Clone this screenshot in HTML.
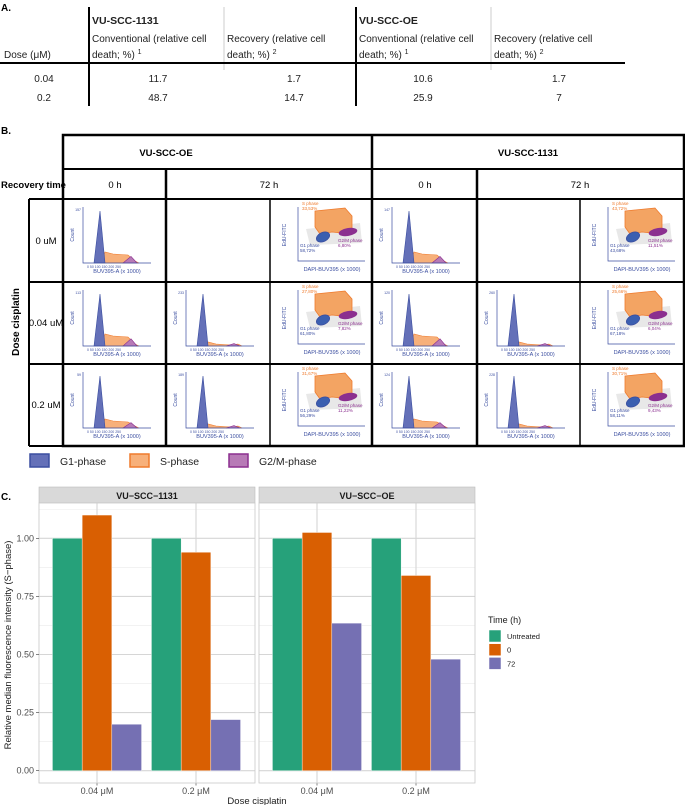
<!DOCTYPE html>
<html><head><meta charset="utf-8"><style>
html,body{margin:0;padding:0;background:#fff;}
svg{display:block;font-family:"Liberation Sans",Arial,sans-serif;}
</style></head><body>
<svg id="fig" width="685" height="805" viewBox="0 0 685 805" xmlns="http://www.w3.org/2000/svg">
<!-- Part A -->
<g>
<text x="1" y="11" font-size="10" font-weight="bold">A.</text>
<line x1="89" y1="7" x2="89" y2="106" stroke="#000" stroke-width="2"/>
<line x1="356" y1="7" x2="356" y2="106" stroke="#000" stroke-width="2"/>
<line x1="224" y1="7" x2="224" y2="70" stroke="#ccc" stroke-width="1"/>
<line x1="491" y1="7" x2="491" y2="70" stroke="#ccc" stroke-width="1"/>
<line x1="0" y1="63" x2="625" y2="63" stroke="#000" stroke-width="2"/>
<g font-size="10" fill="#222">
<text x="92" y="24" font-weight="bold" font-size="10.5">VU-SCC-1131</text>
<text x="359" y="24" font-weight="bold" font-size="10.5">VU-SCC-OE</text>
<text x="92" y="42">Conventional (relative cell</text>
<text x="92" y="58">death; %) <tspan font-size="7" dy="-4">1</tspan></text>
<text x="227" y="42">Recovery (relative cell</text>
<text x="227" y="58">death; %) <tspan font-size="7" dy="-4">2</tspan></text>
<text x="359" y="42">Conventional (relative cell</text>
<text x="359" y="58">death; %) <tspan font-size="7" dy="-4">1</tspan></text>
<text x="494" y="42">Recovery (relative cell</text>
<text x="494" y="58">death; %) <tspan font-size="7" dy="-4">2</tspan></text>
<text x="4" y="58">Dose (μM)</text>
<g text-anchor="middle">
<text x="44" y="82">0.04</text><text x="158" y="82">11.7</text><text x="294" y="82">1.7</text><text x="423" y="82">10.6</text><text x="559" y="82">1.7</text>
<text x="44" y="101">0.2</text><text x="158" y="101">48.7</text><text x="294" y="101">14.7</text><text x="423" y="101">25.9</text><text x="559" y="101">7</text>
</g></g>
</g>
<!-- Part B -->
<g id="partB">
<text x="1" y="134" font-size="10" font-weight="bold">B.</text>
<text x="1" y="188" font-size="9.5" font-weight="bold">Recovery time</text>
<text transform="translate(19,322) rotate(-90)" text-anchor="middle" font-size="10" font-weight="bold">Dose cisplatin</text>
<g font-size="9.5" text-anchor="middle">
<text x="166" y="156" font-weight="bold">VU-SCC-OE</text>
<text x="528" y="156" font-weight="bold">VU-SCC-1131</text>
<text x="115" y="188">0 h</text><text x="269" y="188">72 h</text>
<text x="425" y="188">0 h</text><text x="580" y="188">72 h</text>
<text x="46" y="244">0 uM</text><text x="46" y="326">0.04 uM</text><text x="46" y="408">0.2 uM</text>
</g>
<g id="cells"></g>
<g stroke="#000" fill="none">
<rect x="63" y="135" width="621" height="311" stroke-width="2.5"/>
<line x1="63" y1="169" x2="684" y2="169" stroke-width="2"/>
<line x1="63" y1="199" x2="684" y2="199" stroke-width="2"/>
<line x1="29" y1="199" x2="63" y2="199" stroke-width="2"/>
<line x1="29" y1="282" x2="684" y2="282" stroke-width="2"/>
<line x1="29" y1="364" x2="684" y2="364" stroke-width="2"/>
<line x1="29" y1="446" x2="63" y2="446" stroke-width="2"/>
<line x1="29" y1="199" x2="29" y2="446" stroke-width="2"/>
<line x1="372" y1="135" x2="372" y2="446" stroke-width="2.5"/>
<line x1="166" y1="169" x2="166" y2="446" stroke-width="2.5"/>
<line x1="477" y1="169" x2="477" y2="446" stroke-width="2.5"/>
<line x1="270" y1="199" x2="270" y2="446" stroke-width="1.5"/>
<line x1="580" y1="199" x2="580" y2="446" stroke-width="1.5"/>
</g>
<g font-size="10.5" fill="#222">
<rect x="30" y="454" width="19" height="13" fill="#6470b8" stroke="#3b4ea0" stroke-width="1.5"/>
<text x="60" y="465">G1-phase</text>
<rect x="130" y="454" width="19" height="13" fill="#f7b07a" stroke="#ef7a2c" stroke-width="1.5"/>
<text x="160" y="465">S-phase</text>
<rect x="229" y="454" width="19" height="13" fill="#b77ab6" stroke="#8b2f8f" stroke-width="1.5"/>
<text x="259" y="465">G2/M-phase</text>
</g>
</g>
<!-- Part C -->
<g id="partC">
<text x="1" y="500" font-size="10" font-weight="bold">C.</text>
</g>
</svg>
<script>
// ---------- Part C data ----------
const panels = ["VU−SCC−1131", "VU−SCC−OE"];
const doses = ["0.04 μM", "0.2 μM"];
const seriesNames = ["Untreated", "0", "72"];
const valsUntreated = [[1.00, 1.00], [1.00, 1.00]];
const valsT0 = [[1.10, 0.94], [1.025, 0.84]];
const valsT72 = [[0.20, 0.22], [0.635, 0.48]];
const yTicks = [0, 0.25, 0.5, 0.75, 1.0];
const yTickLabels = ["0.00", "0.25", "0.50", "0.75", "1.00"];

const NS = "http://www.w3.org/2000/svg";
function mk(tag, attrs, parent){const e=document.createElementNS(NS,tag);for(const k in attrs)e.setAttribute(k,attrs[k]);parent.appendChild(e);return e;}

(function drawC(){
  const g = document.getElementById('partC');
  const colors = ["#26a17a", "#d95f02", "#7570b3"];
  const series = [valsUntreated, valsT0, valsT72];
  const panelX = [39, 259], panelW = 216;
  const top = 503, bottom = 783, stripTop = 487;
  const y = v => 770.7 - v * 232.4;
  const band = 99;
  const xCenter = (p, d) => panelX[p] + 58 + d * band;
  const barW = band * 0.9 / 3;
  panels.forEach((pn, p) => {
    const strip = mk('rect',{x:panelX[p],y:stripTop,width:panelW,height:top-stripTop,fill:'#d9d9d9',stroke:'#bdbdbd','stroke-width':0.6},g);
    
    
    const st = mk('text',{x:panelX[p]+panelW/2,y:stripTop+12,'text-anchor':'middle','font-size':'9','font-weight':'bold',fill:'#1a1a1a'},g);
    st.textContent = pn;
    
    
    mk('rect',{x:panelX[p],y:top,width:panelW,height:bottom-top,fill:'#fff'},g);
    // minor grid
    for (let i=0;i<yTicks.length-1;i++){const v=(yTicks[i]+yTicks[i+1])/2;mk('line',{x1:panelX[p],x2:panelX[p]+panelW,y1:y(v),y2:y(v),stroke:'#ebebeb','stroke-width':0.6},g);}
    mk('line',{x1:panelX[p],x2:panelX[p]+panelW,y1:y(1.125),y2:y(1.125),stroke:'#ebebeb','stroke-width':0.6},g);
    yTicks.forEach(v=>mk('line',{x1:panelX[p],x2:panelX[p]+panelW,y1:y(v),y2:y(v),stroke:'#d6d6d6','stroke-width':1.1},g));
    doses.forEach((d,di)=>mk('line',{x1:xCenter(p,di),x2:xCenter(p,di),y1:top,y2:bottom,stroke:'#d6d6d6','stroke-width':1.1},g));
    doses.forEach((d, di) => {
      series.forEach((s, si) => {
        const v = s[p][di];
        const bx = xCenter(p, di) - 1.5*barW + si*barW;
        const r = mk('rect',{x:bx,y:y(v),width:barW,height:y(0)-y(v),fill:colors[si],stroke:'#fff','stroke-width':0.4},g);
        
        
      });
      const tl = mk('text',{x:xCenter(p,di),y:794,'text-anchor':'middle','font-size':'9',fill:'#4d4d4d'},g);
      tl.textContent = d;
      
      
      mk('line',{x1:xCenter(p,di),x2:xCenter(p,di),y1:bottom,y2:bottom+2.5,stroke:'#333','stroke-width':0.6},g);
    });
    mk('rect',{x:panelX[p],y:top,width:panelW,height:bottom-top,fill:'none',stroke:'#c8c8c8','stroke-width':0.8},g);
  });
  yTicks.forEach((v,i)=>{
    const t = mk('text',{x:34,y:y(v)+3,'text-anchor':'end','font-size':'9',fill:'#4d4d4d'},g);
    t.textContent = yTickLabels[i];
    
    
    mk('line',{x1:36,x2:39,y1:y(v),y2:y(v),stroke:'#333','stroke-width':0.6},g);
  });
  const yt = mk('text',{transform:'translate(11,645) rotate(-90)','text-anchor':'middle','font-size':'9.5',fill:'#1a1a1a'},g);
  yt.textContent = 'Relative median fluorescence intensity (S−phase)';
  
  
  const xt = mk('text',{x:257,y:804,'text-anchor':'middle','font-size':'9.5',fill:'#1a1a1a'},g);
  xt.textContent = 'Dose cisplatin';
  
  
  const lt = mk('text',{x:488,y:623,'font-size':'9',fill:'#1a1a1a'},g);
  lt.textContent = 'Time (h)';
  
  
  seriesNames.forEach((n,i)=>{
    const k = mk('rect',{x:489,y:630+i*13.7,width:12,height:12,fill:colors[i],stroke:'#fff','stroke-width':0.5},g);
    
    
    const lb = mk('text',{x:507,y:639+i*13.7,'font-size':'7.5',fill:'#1a1a1a'},g);
    lb.textContent = n;
    
    
  });
})();

// ---------- Part B mini plots ----------
(function drawB(){
  const cells = document.getElementById('cells');
  const rowsY = [199, 282, 364];
  const histCols = [63, 372];
  const hist72 = [166, 477];
  const scatCols = [270, 580];
  function hist(x0, y0, sPeak, label){
    const g = mk('g',{transform:`translate(${x0},${y0})`},cells);
    
    
    const ax=20, ay=64, axR=88;
    // S phase
    mk('path',{d:`M${ax+18},${ay} L${ax+22},${ay-sPeak} L${ax+30},${ay-sPeak+2} L${ax+45},${ay-sPeak+3} L${ax+52},${ay-2} L${ax+56},${ay} Z`,fill:'#f7b07a',stroke:'#ef7a2c','stroke-width':0.6},g);
    // G2/M
    mk('path',{d:`M${ax+40},${ay} L${ax+48},${ay-sPeak*0.6} L${ax+54},${ay} Z`,fill:'#b77ab6',stroke:'#8b2f8f','stroke-width':0.6},g);
    // G1
    mk('path',{d:`M${ax+11},${ay} L${ax+17},${ay-52} L${ax+22},${ay} Z`,fill:'#6470b8',stroke:'#3b4ea0','stroke-width':0.6},g);
    mk('path',{d:`M${ax},8 V${ay} H${axR}`,fill:'none',stroke:'#3b4ea0','stroke-width':0.7},g);
    const t1 = mk('text',{x:(ax+axR)/2,y:74,'text-anchor':'middle','font-size':'5.5',fill:'#3b4ea0'},g); t1.textContent='BUV395-A (x 1000)';
    const t2 = mk('text',{x:ax+4,y:ay+5,'font-size':'3.5',fill:'#3b4ea0'},g); t2.textContent='0    50   100  150  200  250';
    const t3 = mk('text',{transform:`translate(11,36) rotate(-90)`,'text-anchor':'middle','font-size':'5',fill:'#3b4ea0'},g); t3.textContent='Count';
    const t4 = mk('text',{x:ax-2,y:12,'text-anchor':'end','font-size':'3.5',fill:'#3b4ea0'},g); t4.textContent=label;
  }
  function scat(x0, y0, sp, g1, g2){
    const g = mk('g',{transform:`translate(${x0},${y0})`},cells);
    
    
    mk('path',{d:'M36,30 L90,24 L92,44 L40,46 Z',fill:'#d8d8d8',opacity:0.6},g);
    mk('path',{d:'M45,12 L75,9 L82,17 L82,35 L62,33 L50,35 L45,28 Z',fill:'#f3a463',stroke:'#ef7a2c','stroke-width':0.8},g);
    mk('ellipse',{cx:53,cy:38,rx:7,ry:4.5,transform:'rotate(-25 53 38)',fill:'#3b5fb0',stroke:'#3b4ea0','stroke-width':0.8},g);
    mk('ellipse',{cx:78,cy:33,rx:9,ry:3.5,transform:'rotate(-10 78 33)',fill:'#8b2f8f',stroke:'#8b2f8f','stroke-width':0.8},g);
    mk('path',{d:'M28,8 V62 H95',fill:'none',stroke:'#3b4ea0','stroke-width':0.7},g);
    const a=mk('text',{x:32,y:6,'font-size':'4.5',fill:'#ef7a2c'},g); a.textContent='S phase';
    const a2=mk('text',{x:32,y:11,'font-size':'4.5',fill:'#ef7a2c'},g); a2.textContent=sp;
    const b=mk('text',{x:30,y:48,'font-size':'4.5',fill:'#3b4ea0'},g); b.textContent='G1 phase';
    const b2=mk('text',{x:30,y:53,'font-size':'4.5',fill:'#3b4ea0'},g); b2.textContent=g1;
    const c=mk('text',{x:68,y:43,'font-size':'4.5',fill:'#8b2f8f'},g); c.textContent='G2/M phase';
    const c2=mk('text',{x:68,y:48,'font-size':'4.5',fill:'#8b2f8f'},g); c2.textContent=g2;
    const d=mk('text',{x:62,y:72,'text-anchor':'middle','font-size':'5.5',fill:'#3b4ea0'},g); d.textContent='DAPI-BUV395 (x 1000)';
    const e=mk('text',{transform:'translate(16,36) rotate(-90)','text-anchor':'middle','font-size':'5',fill:'#3b4ea0'},g); e.textContent='EdU-FITC';
  }
  const hLabels=[["157","147"],["113","120"],["59","124"]];
  const h72Labels=[null,["233","260"],["189","228"]];
  const sInfo=[[["33,53%","58,72%","6,80%"],["43,72%","43,68%","11,51%"]],
               [["27,80%","61,80%","7,82%"],["25,66%","67,18%","6,04%"]],
               [["31,67%","56,29%","11,22%"],["30,71%","58,11%","9,43%"]]];
  rowsY.forEach((ry,r)=>{
    histCols.forEach((cx,c)=>hist(cx,ry,r===0?11:r===1?12:9,hLabels[r][c]));
    if(r>0) hist72.forEach((cx,c)=>hist(cx,ry,4,h72Labels[r][c]));
    scatCols.forEach((cx,c)=>scat(cx,ry,...sInfo[r][c]));
  });
})();
</script>
</body></html>
